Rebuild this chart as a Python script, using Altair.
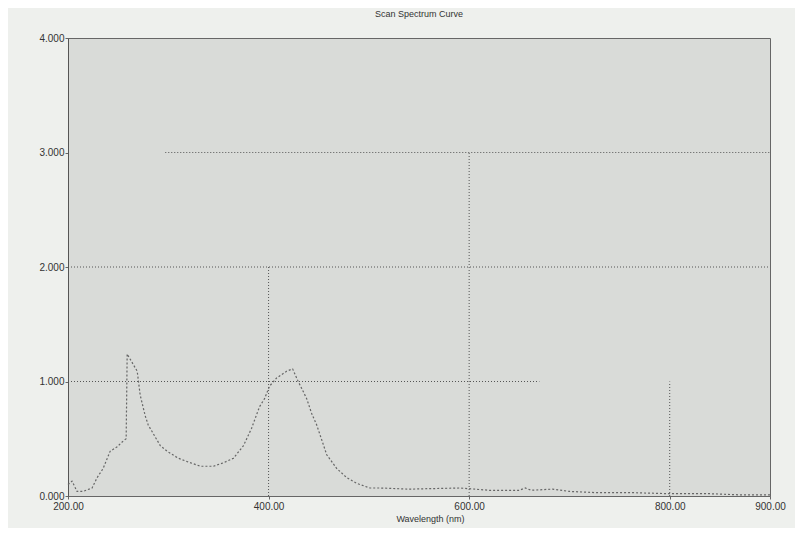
import altair as alt
import pandas as pd

# Spectrum readings (wavelength nm, absorbance)
wavelength = [200, 204, 209, 215, 224, 229, 235, 242, 249, 255, 258, 259, 263, 269, 272, 277, 280,
              292, 299, 310, 319, 332, 345, 355, 365, 375, 383, 391, 396, 401, 408, 418, 424,
              429, 433, 438, 443, 448, 458, 468, 478, 488, 501, 511, 540, 591, 620, 650, 656,
              662, 683, 700, 725, 760, 800, 840, 870, 900]
absorb = [0.10, 0.13, 0.04, 0.04, 0.07, 0.16, 0.24, 0.39, 0.43, 0.48, 0.50, 1.24, 1.18, 1.09, 0.88, 0.70, 0.62,
          0.44, 0.39, 0.33, 0.30, 0.26, 0.26, 0.29, 0.33, 0.44, 0.59, 0.78, 0.85, 0.96, 1.03, 1.09, 1.11,
          1.01, 0.94, 0.85, 0.72, 0.62, 0.36, 0.24, 0.16, 0.11, 0.07, 0.07, 0.06, 0.07, 0.05, 0.05, 0.07,
          0.05, 0.06, 0.04, 0.03, 0.03, 0.02, 0.02, 0.01, 0.01]

x_ticks = [200, 400, 600, 800, 900]
y_ticks = [0, 1, 2, 3, 4]

# dotted grid segments (as seen on the scan)
h_y = [3, 2, 1]
h_x1 = [297, 200, 200]
h_x2 = [900, 900, 670]
v_x = [400, 600, 800]
v_y1 = [0, 0, 0]
v_y2 = [2, 3, 1]

df = pd.DataFrame({"wl": wavelength, "a": absorb})
hdf = pd.DataFrame({"y": h_y, "x1": h_x1, "x2": h_x2})
vdf = pd.DataFrame({"x": v_x, "y1": v_y1, "y2": v_y2})

xscale = alt.Scale(domain=[200, 900], nice=False, zero=False)
yscale = alt.Scale(domain=[0, 4], nice=False)

font = "Liberation Sans"

xaxis = alt.Axis(values=x_ticks, format=".2f", title="Wavelength (nm)", grid=False,
                 labelFont=font, labelFontSize=10, labelColor="#333", titleFont=font,
                 titleFontSize=9, titleFontWeight="normal", titleColor="#333",
                 tickSize=3, tickColor="#666", domainColor="#666", labelPadding=2,
                 labelFlush=False, titlePadding=3, titleX=362)
yaxis = alt.Axis(values=y_ticks, format=".3f", title=None, grid=False,
                 labelFont=font, labelFontSize=10, labelColor="#333",
                 tickSize=3, tickColor="#666", domainColor="#555", labelPadding=1)

hlines = alt.Chart(hdf).mark_rule(color="#555", strokeDash=[1, 2], strokeWidth=1).encode(
    x=alt.X("x1:Q", scale=xscale, axis=xaxis), x2="x2:Q",
    y=alt.Y("y:Q", scale=yscale, axis=yaxis))
vlines = alt.Chart(vdf).mark_rule(color="#555", strokeDash=[1, 2], strokeWidth=1).encode(
    x=alt.X("x:Q", scale=xscale), y=alt.Y("y1:Q", scale=yscale), y2="y2:Q")
curve = alt.Chart(df).mark_line(color="#666", strokeWidth=1.2, strokeDash=[2, 2]).encode(
    x=alt.X("wl:Q", scale=xscale), y=alt.Y("a:Q", scale=yscale))

chart = alt.layer(hlines, vlines, curve).properties(
    width=702, height=458,
    title=alt.TitleParams("Scan Spectrum Curve", font=font, fontSize=9, fontWeight="normal",
                          color="#333", offset=14),
    background="#eef0ed",
    autosize=alt.AutoSizeParams(type="none"),
    padding={"left": 60, "top": 30, "right": 25, "bottom": 32},
).configure_view(fill="#d9dbd8", stroke="#666", strokeWidth=1)

chart.save("out.html", embed_options={"renderer": "svg", "actions": False})
